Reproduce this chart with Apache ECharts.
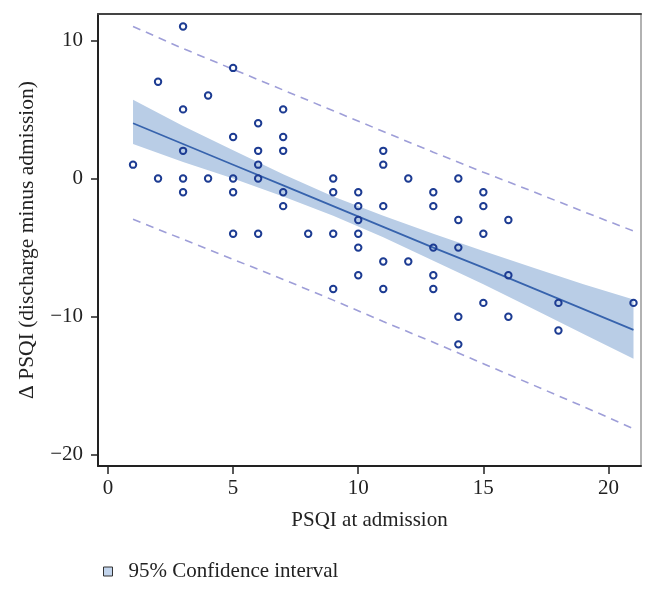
<!DOCTYPE html>
<html>
<head>
<meta charset="utf-8">
<script src="https://cdn.jsdelivr.net/npm/echarts@6/dist/echarts.min.js"></script>
<style>
html,body{margin:0;padding:0;background:#fff;}
#chart{width:656px;height:593px;}
</style>
</head>
<body>
<div id="chart"></div>
<script>
// Observed points: PSQI at admission (x) and change in PSQI (y)
const psqiAdmission = [1, 2,2, 3,3,3,3,3, 4,4, 5,5,5,5,5, 6,6,6,6,6, 7,7,7,7,7, 8, 9,9,9,9, 10,10,10,10,10,10, 11,11,11,11,11, 12,12, 13,13,13,13,13, 14,14,14,14,14, 15,15,15,15, 16,16,16, 18,18, 21];
const psqiChange    = [1, 7,0, 11,5,2,0,-1, 6,0, 8,3,0,-1,-4, 4,2,1,0,-4, 5,3,2,-1,-2, -4, 0,-1,-4,-8, -1,-2,-3,-4,-5,-7, 2,1,-2,-6,-8, 0,-6, -1,-2,-5,-7,-8, 0,-3,-5,-10,-12, -1,-2,-4,-9, -3,-7,-10, -9,-11, -9];

// Fitted line, 95% confidence band and prediction limits
const fitX    = [1, 3, 5, 7, 9, 11, 13, 15, 17, 19, 21];
const fitY    = [4.0, 2.5, 1.0, -0.5, -2.0, -3.5, -5.0, -6.45, -7.95, -9.45, -10.95];
const ciUpper = [5.7, 3.8, 2.05, 0.3, -1.3, -2.7, -4.0, -5.25, -6.45, -7.65, -8.75];
const ciLower = [2.5, 1.2, 0.0, -1.3, -2.7, -4.25, -5.95, -7.65, -9.45, -11.25, -13.05];
const piUpper = [11.0, 9.4, 7.9, 6.4, 4.9, 3.4, 1.9, 0.45, -0.95, -2.4, -3.8];
const piLower = [-2.95, -4.4, -5.85, -7.3, -8.8, -10.35, -11.85, -13.4, -14.95, -16.5, -18.1];

const xTicks = [0, 5, 10, 15, 20];
const yTicks = [-20, -10, 0, 10];

const FONT = 'Liberation Serif';
const axisColor = '#222';
const bandColor = '#b9cde6';
const lineColor = '#3763ad';
const dashColor = '#9e9ed8';
const markColor = '#1c3b92';

const chart = echarts.init(document.getElementById('chart'), null, {renderer: 'canvas'});

const bandData = fitX.map((x, i) => [x, ciLower[i], ciUpper[i]]);

const option = {
  animation: false,
  backgroundColor: '#fff',
  grid: {left: 98, right: 15, top: 14, bottom: 127, containLabel: false},
  legend: {
    left: 98,
    top: 556,
    itemWidth: 9,
    itemHeight: 9,
    icon: 'rect',
    textStyle: {fontFamily: FONT, fontSize: 21, color: '#222', padding: [5, 0, 0, 11]},
    data: [{name: '95% Confidence interval', itemStyle: {color: '#c2d4ec', borderColor: '#333', borderWidth: 1}}],
    selectedMode: false
  },
  xAxis: [
    {
      type: 'value', min: -0.4, max: 21.3, position: 'bottom',
      axisLine: {show: true, onZero: false, lineStyle: {color: axisColor, width: 2}},
      axisTick: {show: true, length: 8, customValues: xTicks, lineStyle: {color: axisColor, width: 1.5}},
      axisLabel: {customValues: xTicks, fontFamily: FONT, fontSize: 21, color: axisColor, margin: 12},
      splitLine: {show: false},
      name: 'PSQI at admission', nameLocation: 'middle', nameGap: 44,
      nameTextStyle: {fontFamily: FONT, fontSize: 21, color: axisColor}
    },
    {
      type: 'value', min: -0.4, max: 21.3, position: 'top',
      axisLine: {show: true, onZero: false, lineStyle: {color: '#444', width: 2}},
      axisTick: {show: false}, axisLabel: {show: false}, splitLine: {show: false}
    }
  ],
  yAxis: [
    {
      type: 'value', min: -20.8, max: 11.9, position: 'left',
      axisLine: {show: true, onZero: false, lineStyle: {color: axisColor, width: 2}},
      axisTick: {show: true, length: 7, customValues: yTicks, lineStyle: {color: axisColor, width: 1.5}},
      axisLabel: {customValues: yTicks, fontFamily: FONT, fontSize: 21, color: axisColor, margin: 15,
        formatter: v => (v < 0 ? '\u2212' + Math.abs(v) : String(v))},
      splitLine: {show: false},
      name: '\u0394 PSQI (discharge minus admission)', nameLocation: 'middle', nameGap: 60,
      nameTextStyle: {fontFamily: FONT, fontSize: 21.5, color: axisColor}
    },
    {
      type: 'value', min: -20.8, max: 11.9, position: 'right',
      axisLine: {show: true, onZero: false, lineStyle: {color: '#999', width: 1.5}},
      axisTick: {show: false}, axisLabel: {show: false}, splitLine: {show: false}
    }
  ],
  series: [
    {
      name: '95% Confidence interval',
      type: 'custom',
      xAxisIndex: 0, yAxisIndex: 0,
      z: 1,
      silent: true,
      data: [0],
      renderItem: function (params, api) {
        const upper = bandData.map(d => api.coord([d[0], d[2]]));
        const lower = bandData.map(d => api.coord([d[0], d[1]])).reverse();
        return {type: 'polygon', shape: {points: upper.concat(lower)}, style: {fill: bandColor}};
      },
      itemStyle: {color: bandColor}
    },
    {
      name: 'Fit', type: 'line', z: 3, symbol: 'none', silent: true,
      data: fitX.map((x, i) => [x, fitY[i]]),
      lineStyle: {color: lineColor, width: 1.7}
    },
    {
      name: 'PI upper', type: 'line', z: 3, symbol: 'none', silent: true,
      data: fitX.map((x, i) => [x, piUpper[i]]),
      lineStyle: {color: dashColor, width: 1.6, type: [8, 6]}
    },
    {
      name: 'PI lower', type: 'line', z: 3, symbol: 'none', silent: true,
      data: fitX.map((x, i) => [x, piLower[i]]),
      lineStyle: {color: dashColor, width: 1.6, type: [8, 6]}
    },
    {
      name: 'Observed', type: 'scatter', z: 5, silent: true,
      symbol: 'circle', symbolSize: 6.4,
      data: psqiAdmission.map((x, i) => [x, psqiChange[i]]),
      itemStyle: {color: 'rgba(0,0,0,0)', borderColor: markColor, borderWidth: 2, opacity: 1}
    }
  ],
  graphic: [
    {type: 'rect', left: 0, top: 579, shape: {width: 656, height: 14}, style: {fill: '#fff'}, z: 100}
  ]
};

chart.setOption(option);
</script>
</body>
</html>
